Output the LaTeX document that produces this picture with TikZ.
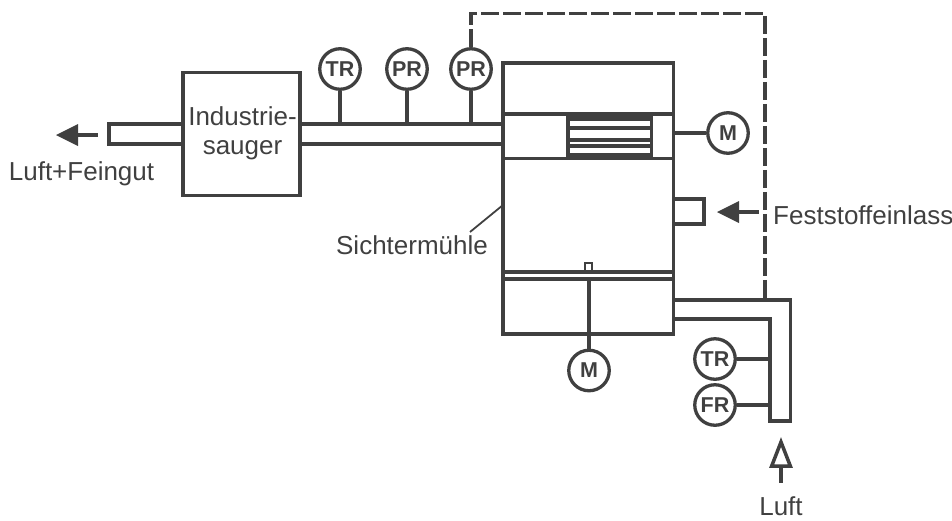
\documentclass[tikz,border=0pt]{standalone}
\usepackage{fontspec}
\setmainfont{Liberation Sans}
\definecolor{ink}{HTML}{404040}
\tikzset{
  wall/.style={draw=ink,line width=3.8pt,line join=miter},
  thin wall/.style={draw=ink,line width=3.5pt},
  instr/.style={circle,draw=ink,line width=3.3pt,fill=white,minimum size=40.5pt,inner sep=0pt,text=ink,font=\fontsize{21.5}{21.5}\selectfont\bfseries},
  lbl/.style={text=ink,inner sep=0pt,font=\fontsize{26}{29}\selectfont,align=center},
  solidhead/.style={fill=ink,draw=none},
}
\begin{document}
\begin{tikzpicture}[x=1pt,y=-1pt]
\useasboundingbox (0,0) rectangle (952,520);
% coordinates
\coordinate (mTL) at (503,63);
\coordinate (mBR) at (673.5,334);
\coordinate (pipeTop) at (503,124);
\coordinate (pipeBot) at (503,144);
\coordinate (duct0) at (673.5,300);
\coordinate (duct1) at (790.5,300);
\coordinate (duct2) at (790.5,421);
\coordinate (duct3) at (770,421);
\coordinate (duct4) at (770,319);
\coordinate (duct5) at (673.5,319);
\coordinate (dashCorner1) at (471,13.5);
\coordinate (dashCorner2) at (765,13.5);
\coordinate (dashEnd) at (765,300);
\coordinate (outA) at (183,124);
\coordinate (outB) at (109,124);
\coordinate (outC) at (109,144);
\coordinate (outD) at (183,144);
% Main body
\draw[wall] (mTL) rectangle (mBR);
\draw[wall] (503,114) -- (673.5,114);
\draw[wall] (503,158.5) -- (673.5,158.5);
\draw[wall] (503,272.3) -- (673.5,272.3);
\draw[wall] (503,279) -- (673.5,279);
% classifier wheel
\draw[wall] (568,114) -- (568,158.5);
\draw[wall] (651.5,114) -- (651.5,158.5);
\fill[ink] (568,114) rectangle (651.5,121);
\fill[ink] (568,126) rectangle (651.5,129.5);
\fill[ink] (568,137.7) rectangle (651.5,141.7);
\fill[ink] (568,144.3) rectangle (651.5,148);
\fill[ink] (568,152.7) rectangle (651.5,158.5);
% small pin
\draw[draw=ink,line width=2.8pt] (585,272) -- (585,263) -- (592,263) -- (592,272);
% feed box
\draw[wall] (673.5,199) -- (704,199) -- (704,224) -- (673.5,224);
% industrial vacuum
\node[draw=ink,line width=3.8pt,minimum width=117pt,minimum height=123pt,inner sep=0pt] (sauger) at (241.5,134) {};
\node[lbl] (saugerText) at (242.5,133) {Industrie-\\sauger};
% pipes
\draw[wall] (sauger.east |- pipeTop) -- (pipeTop);
\draw[wall] (sauger.east |- pipeBot) -- (pipeBot);
\draw[wall] (outA) -- (outB) -- (outC) -- (outD);
% instruments
\node[instr] (tr1) at (340,69) {TR};
\node[instr] (pr1) at (407,69) {PR};
\node[instr] (pr2) at (471,69) {PR};
\node[instr] (m1) at (728,133) {M};
\node[instr] (m2) at (589,370.5) {M};
\node[instr] (tr2) at (715,359) {TR};
\node[instr] (fr) at (715,405) {FR};
\draw[thin wall] (tr1.south) -- (tr1.south |- pipeTop);
\draw[thin wall] (pr1.south) -- (pr1.south |- pipeTop);
\draw[thin wall] (pr2.south) -- (pr2.south |- pipeTop);
\draw[thin wall] (m1.west) -- (m1.west -| mBR);
\draw[thin wall] (m2.north) -- (m2.north |- 0,279);
\draw[thin wall] (tr2.east) -- (tr2.east -| duct3);
\draw[thin wall] (fr.east) -- (fr.east -| duct3);
% duct
\draw[wall] (duct0) -- (duct1) -- (duct2) -- (duct3) -- (duct4) -- (duct5);
% dashed line
\draw[draw=ink,line width=3.8pt,dash pattern=on 18pt off 4pt] (pr2.north) -- (dashCorner1) -- (dashCorner2) -- (dashEnd);
% arrows
\coordinate (a1tip) at (56,135);
\coordinate (a1end) at (98,135);
\fill[solidhead] (a1tip) -- (78,124) -- (78,146) -- cycle;
\draw[thin wall] (78,135) -- (a1end);
\coordinate (a2tip) at (717,212);
\coordinate (a2end) at (759,212);
\fill[solidhead] (a2tip) -- (739,201) -- (739,223) -- cycle;
\draw[thin wall] (739,212) -- (a2end);
\coordinate (a3end) at (781,483);
\draw[draw=ink,line width=3.5pt,fill=white,line join=miter] (781,442) -- (771.6,466.2) -- (790.4,466.2) -- cycle;
\draw[thin wall] (781,466.2) -- (a3end);
% labels
\node[lbl] (lFein) at (81.5,174) {Luft+Feingut};
\node[lbl] (lSicht) at (412,245.5) {Sichtermühle};
\node[lbl,anchor=west] (lFest) at (773,215) {Feststoffeinlass};
\node[lbl] (lLuft) at (781,506.5) {Luft};
\coordinate (leadEnd) at (503,205);
\draw[draw=ink,line width=1.8pt] (470,232) -- (leadEnd);
\end{tikzpicture}
\end{document}
